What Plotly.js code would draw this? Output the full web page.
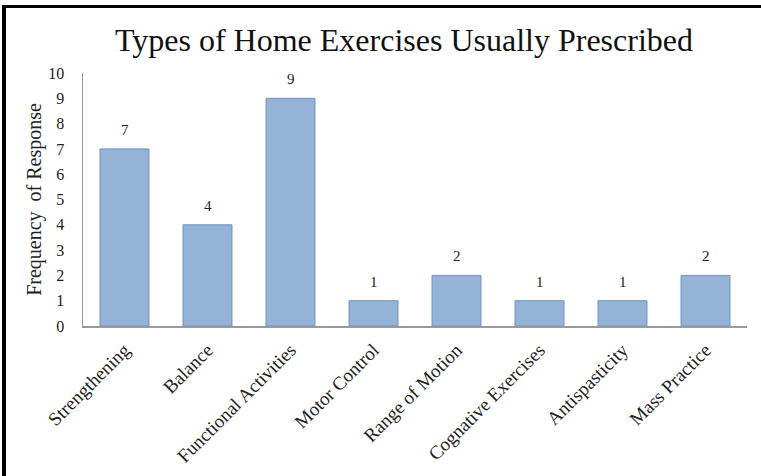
<!DOCTYPE html>
<html>
<head>
<meta charset="utf-8">
<script src="https://cdn.plot.ly/plotly-3.0.1.min.js"></script>
<style>
html,body{margin:0;padding:0;background:#fff;}
#wrap{position:absolute;left:0;top:0;width:761px;height:476px;overflow:hidden;}
#frame{position:absolute;left:2px;top:5px;width:761px;height:480px;border-left:4px solid #000;border-top:3px solid #000;box-sizing:border-box;pointer-events:none;}
#chart{position:absolute;left:0;top:0;width:761px;height:476px;}
</style>
</head>
<body>
<div id="wrap">
<div id="chart"></div>
<div id="frame"></div>
</div>
<script>
const categories = ["Strengthening","Balance","Functional Activities","Motor Control","Range of Motion","Cognative Exercises","Antispasticity","Mass Practice"];
const frequencies = [7,4,9,1,2,1,1,2];
const yTicks = [0,1,2,3,4,5,6,7,8,9,10];

const serif = "Liberation Serif";

const labels = categories.map((c, i) => ({
  x: c, y: frequencies[i], xref: 'x', yref: 'y',
  text: String(frequencies[i]), showarrow: false,
  yanchor: 'middle', yshift: 19,
  font: {family: serif, size: 15, color: '#222'}
}));

Plotly.newPlot('chart', [{
  type: 'bar',
  x: categories,
  y: frequencies,
  marker: {color: '#95B3D7', line: {color: '#6F93C4', width: 1}},
  hoverinfo: 'none'
}], {
  width: 761, height: 476,
  margin: {l: 83, r: 14, t: 73, b: 150},
  paper_bgcolor: '#fff', plot_bgcolor: '#fff',
  bargap: 0.41,
  showlegend: false,
  annotations: labels,
  title: {
    text: 'Types of Home Exercises Usually Prescribed',
    font: {family: serif, size: 32, color: '#111'},
    x: 404/761, xanchor: 'center', xref: 'container',
    y: 1 - 40/476, yanchor: 'middle', yref: 'container'
  },
  xaxis: {
    type: 'category',
    tickangle: -45,
    tickfont: {family: serif, size: 19, color: '#222'},
    showline: true, linecolor: '#999', linewidth: 1.5,
    ticks: 'outside', ticklen: 4, tickcolor: 'rgba(0,0,0,0)',
    showgrid: false, zeroline: false,
    automargin: false
  },
  yaxis: {
    range: [0, 10],
    tickvals: yTicks,
    ticktext: yTicks.map(String),
    tickfont: {family: serif, size: 16, color: '#222'},
    showline: true, linecolor: '#999', linewidth: 1.5,
    ticks: 'outside', ticklen: 14, tickcolor: 'rgba(0,0,0,0)',
    showgrid: false, zeroline: false,
    automargin: false,
    title: {text: 'Frequency  of Response', font: {family: serif, size: 20, color: '#222'}, standoff: 1}
  }
}, {displayModeBar: false, staticPlot: true});
</script>
</body>
</html>
